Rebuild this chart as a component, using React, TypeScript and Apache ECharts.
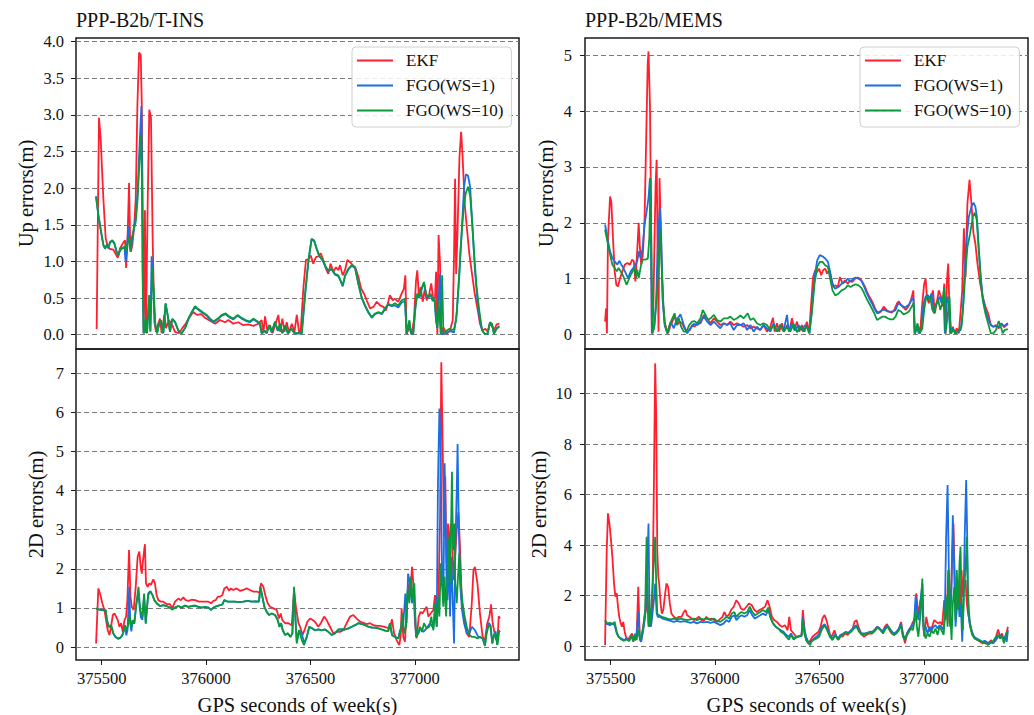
import React, { useEffect, useRef } from "react";
import * as echarts from "echarts";

type P = [number, number][];

const seriesNames = ["EKF", "FGO(WS=1)", "FGO(WS=10)"];
const seriesColors = ["#ff1f2e", "#1a6fe6", "#0a9a3c"];
const xTicks = [375500, 376000, 376500, 377000];
const yTicksUpTins = [0, 0.5, 1, 1.5, 2, 2.5, 3, 3.5, 4];
const yTicks2dTins = [0, 1, 2, 3, 4, 5, 6, 7];
const yTicksUpMems = [0, 1, 2, 3, 4, 5];
const yTicks2dMems = [0, 2, 4, 6, 8, 10];
const panelTitles = ["PPP-B2b/T-INS", "PPP-B2b/MEMS"];

// ---------- Up errors, T-INS ----------
const upTinsEkf: P = [[375473,0.08],[375476,0.09],[375487,2.96],[375495,2.68],[375508,1.86],[375519,1.32],[375529,1.20],[375540,1.17],[375556,1.16],[375567,1.10],[375577,1.05],[375588,1.18],[375604,1.26],[375612,1.29],[375617,0.91],[375623,1.23],[375631,2.07],[375636,1.32],[375640,1.13],[375647,1.23],[375656,1.50],[375663,1.86],[375671,3.14],[375679,3.85],[375687,3.82],[375692,3.14],[375696,1.77],[375701,0.02],[375707,1.70],[375712,0.02],[375720,1.77],[375728,3.07],[375736,2.96],[375744,1.32],[375752,0.18],[375760,0.04],[375768,0.13],[375779,0.22],[375787,0.02],[375800,0.27],[375808,0.09],[375822,0.20],[375838,0.13],[375851,0.04],[375870,0.02],[375886,0.09],[375902,0.15],[375923,0.25],[375939,0.31],[375955,0.27],[375976,0.28],[375995,0.23],[376019,0.19],[376043,0.15],[376067,0.20],[376091,0.17],[376107,0.20],[376130,0.15],[376154,0.17],[376178,0.13],[376202,0.14],[376226,0.12],[376250,0.15],[376266,0.20],[376274,0.02],[376282,0.25],[376293,0.06],[376306,0.13],[376318,0.02],[376330,0.13],[376346,0.27],[376354,0.04],[376365,0.22],[376375,0.04],[376386,0.17],[376397,0.02],[376410,0.15],[376423,0.04],[376434,0.27],[376445,0.04],[376452,0.02],[376466,0.65],[376478,1.02],[376490,1.03],[376501,1.08],[376513,0.97],[376526,1.06],[376537,1.07],[376549,1.11],[376561,1.02],[376574,0.90],[376585,0.83],[376596,0.97],[376609,0.86],[376622,0.92],[376633,0.88],[376641,0.95],[376654,0.81],[376665,0.88],[376676,1.02],[376689,0.99],[376702,0.95],[376714,0.92],[376729,0.79],[376742,0.63],[376756,0.56],[376769,0.47],[376785,0.36],[376801,0.38],[376817,0.45],[376833,0.40],[376849,0.38],[376861,0.33],[376872,0.45],[376880,0.54],[376893,0.47],[376904,0.49],[376920,0.45],[376936,0.56],[376947,0.63],[376954,0.81],[376960,0.01],[376973,0.10],[376984,0.01],[376995,0.20],[377005,0.74],[377011,0.88],[377019,0.51],[377027,0.65],[377037,0.45],[377046,0.61],[377056,0.47],[377067,0.54],[377078,0.70],[377088,0.47],[377096,0.51],[377101,0.86],[377107,0.01],[377113,1.36],[377120,0.97],[377126,0.01],[377136,0.10],[377152,0.01],[377168,0.06],[377181,0.20],[377187,1.11],[377192,2.13],[377197,0.83],[377203,1.33],[377213,2.43],[377221,2.77],[377228,2.43],[377238,1.79],[377248,1.47],[377260,1.11],[377273,0.83],[377286,0.56],[377299,0.36],[377311,0.15],[377324,0.06],[377337,0.08],[377348,0.04],[377359,0.16],[377369,0.11],[377378,0.06],[377391,0.14],[377404,0.15]];
const upTinsWs1: P = [[375473,1.89],[375484,1.63],[375497,1.40],[375508,1.22],[375516,1.17],[375524,1.22],[375532,1.18],[375540,1.26],[375551,1.28],[375561,1.24],[375572,1.12],[375580,1.08],[375588,1.15],[375599,1.18],[375609,1.19],[375615,0.99],[375621,1.20],[375628,1.48],[375634,1.20],[375640,1.15],[375646,1.30],[375654,1.45],[375663,1.60],[375672,1.95],[375680,2.50],[375690,3.12],[375694,2.00],[375697,0.60],[375701,0.02],[375711,0.20],[375717,0.02],[375727,0.50],[375733,0.05],[375739,1.07],[375746,0.70],[375752,0.30],[375757,0.12],[375765,0.02],[375775,0.14],[375784,0.19],[375795,0.02],[375806,0.42],[375816,0.26],[375827,0.04],[375838,0.21],[375851,0.17],[375867,0.05],[375883,0.02],[375899,0.09],[375915,0.21],[375931,0.30],[375947,0.38],[375963,0.34],[375982,0.30],[376003,0.26],[376019,0.21],[376035,0.17],[376056,0.21],[376075,0.26],[376094,0.28],[376110,0.24],[376130,0.21],[376151,0.26],[376170,0.22],[376189,0.19],[376210,0.17],[376226,0.21],[376247,0.17],[376258,0.14],[376266,0.02],[376279,0.05],[376290,0.02],[376301,0.12],[376314,0.03],[376330,0.17],[376343,0.05],[376354,0.14],[376365,0.02],[376378,0.12],[376391,0.02],[376407,0.08],[376423,0.02],[376442,0.02],[376458,0.02],[376474,0.55],[376490,1.01],[376505,1.30],[376517,1.28],[376529,1.17],[376542,1.07],[376558,1.01],[376574,0.91],[376585,0.87],[376601,0.89],[376617,0.82],[376633,0.80],[376644,0.73],[376654,0.66],[376665,0.80],[376681,0.89],[376697,0.94],[376713,0.91],[376729,0.69],[376745,0.50],[376761,0.39],[376777,0.30],[376793,0.23],[376809,0.28],[376825,0.30],[376841,0.28],[376857,0.35],[376872,0.41],[376888,0.39],[376904,0.40],[376920,0.37],[376936,0.44],[376952,0.46],[376960,0.01],[376973,0.18],[376981,0.01],[376992,0.02],[377002,0.37],[377011,0.55],[377021,0.50],[377032,0.62],[377043,0.71],[377053,0.55],[377064,0.50],[377075,0.55],[377085,0.46],[377094,0.48],[377101,0.19],[377107,0.09],[377113,0.44],[377120,0.83],[377126,0.01],[377136,0.01],[377152,0.03],[377168,0.05],[377187,0.03],[377200,0.29],[377212,0.80],[377224,1.43],[377235,2.02],[377244,2.19],[377254,2.17],[377264,2.02],[377276,1.43],[377287,0.88],[377299,0.47],[377311,0.20],[377321,0.06],[377334,0.01],[377347,0.01],[377359,0.16],[377369,0.14],[377378,0.02],[377391,0.09],[377404,0.12]];
const upTinsWs10: P = [[375473,1.88],[375484,1.64],[375497,1.41],[375508,1.23],[375516,1.18],[375524,1.23],[375532,1.19],[375540,1.27],[375551,1.29],[375561,1.25],[375572,1.13],[375580,1.09],[375588,1.16],[375599,1.19],[375609,1.20],[375617,1.13],[375623,1.25],[375631,1.32],[375638,1.13],[375644,1.32],[375652,1.41],[375663,1.54],[375672,1.86],[375680,2.32],[375688,2.73],[375693,2.09],[375696,0.86],[375701,0.02],[375711,0.22],[375717,0.02],[375727,0.54],[375733,0.04],[375743,0.91],[375751,0.50],[375757,0.13],[375765,0.02],[375775,0.15],[375784,0.20],[375795,0.02],[375806,0.43],[375816,0.27],[375827,0.04],[375838,0.22],[375851,0.18],[375867,0.06],[375883,0.02],[375899,0.09],[375915,0.22],[375931,0.31],[375947,0.39],[375963,0.35],[375982,0.31],[376003,0.27],[376019,0.22],[376035,0.18],[376056,0.22],[376075,0.27],[376094,0.29],[376110,0.25],[376130,0.22],[376151,0.27],[376170,0.23],[376189,0.20],[376210,0.18],[376226,0.22],[376247,0.18],[376258,0.15],[376266,0.02],[376279,0.06],[376290,0.02],[376301,0.13],[376314,0.04],[376330,0.18],[376343,0.06],[376354,0.15],[376365,0.02],[376378,0.13],[376391,0.02],[376407,0.09],[376423,0.02],[376442,0.02],[376458,0.02],[376474,0.56],[376490,1.02],[376505,1.31],[376517,1.29],[376529,1.18],[376542,1.08],[376558,1.02],[376574,0.92],[376585,0.88],[376601,0.90],[376617,0.83],[376633,0.81],[376644,0.74],[376654,0.67],[376665,0.81],[376681,0.90],[376697,0.95],[376713,0.92],[376729,0.70],[376745,0.51],[376761,0.40],[376777,0.31],[376793,0.24],[376809,0.29],[376825,0.31],[376841,0.29],[376857,0.36],[376872,0.42],[376888,0.40],[376904,0.43],[376920,0.40],[376936,0.47],[376952,0.49],[376960,0.01],[376973,0.20],[376981,0.01],[376992,0.02],[377002,0.38],[377011,0.56],[377021,0.51],[377032,0.63],[377043,0.72],[377053,0.56],[377064,0.51],[377075,0.56],[377085,0.47],[377094,0.49],[377101,0.20],[377107,0.10],[377113,0.45],[377123,0.01],[377130,0.81],[377136,0.01],[377149,0.05],[377165,0.08],[377177,0.06],[377187,0.08],[377197,0.20],[377208,0.65],[377219,1.20],[377232,1.70],[377243,1.93],[377254,2.02],[377264,1.90],[377273,1.56],[377283,1.11],[377295,0.65],[377308,0.33],[377321,0.06],[377334,0.01],[377347,0.01],[377359,0.17],[377369,0.15],[377378,0.01],[377391,0.08],[377404,0.11]];

// ---------- 2D errors, T-INS ----------
const hzTinsEkf: P = [[375473,0.09],[375484,1.50],[375492,1.37],[375503,1.12],[375513,0.95],[375521,0.69],[375529,0.43],[375537,0.31],[375545,0.52],[375553,0.82],[375561,0.86],[375569,0.78],[375577,0.69],[375585,0.52],[375593,0.61],[375601,0.39],[375609,0.69],[375617,0.78],[375623,1.20],[375631,2.48],[375638,1.29],[375644,1.03],[375653,0.95],[375663,1.54],[375672,2.31],[375680,2.44],[375687,2.05],[375692,1.88],[375698,2.23],[375707,2.63],[375712,1.63],[375720,1.54],[375728,1.63],[375736,1.59],[375747,1.73],[375755,1.63],[375763,1.33],[375771,1.20],[375784,1.16],[375795,1.16],[375811,1.10],[375827,1.10],[375838,0.99],[375851,1.16],[375867,1.24],[375879,1.20],[375891,1.27],[375902,1.20],[375915,1.18],[375931,1.21],[375947,1.20],[375966,1.16],[375987,1.16],[376011,1.16],[376024,1.12],[376035,1.18],[376046,1.20],[376056,1.29],[376067,1.29],[376078,1.33],[376087,1.50],[376099,1.54],[376110,1.44],[376119,1.50],[376130,1.46],[376146,1.50],[376162,1.44],[376178,1.46],[376194,1.50],[376210,1.46],[376226,1.42],[376242,1.42],[376255,1.39],[376263,1.63],[376274,1.54],[376285,1.29],[376295,1.12],[376306,1.03],[376322,0.99],[376338,0.95],[376349,0.73],[376357,0.86],[376365,0.69],[376378,0.61],[376394,0.61],[376410,0.56],[376421,1.42],[376430,1.03],[376442,0.61],[376450,0.52],[376462,0.31],[376474,0.48],[376485,0.65],[376498,0.73],[376510,0.69],[376521,0.65],[376537,0.52],[376549,0.61],[376565,0.78],[376577,0.69],[376593,0.52],[376609,0.35],[376625,0.39],[376641,0.39],[376657,0.43],[376673,0.61],[376689,0.78],[376705,0.82],[376721,0.73],[376737,0.65],[376753,0.62],[376769,0.59],[376785,0.61],[376801,0.56],[376817,0.54],[376833,0.54],[376849,0.52],[376865,0.50],[376880,0.48],[376890,0.71],[376900,0.35],[376912,0.18],[376925,0.05],[376932,0.31],[376936,0.99],[376944,0.26],[376952,0.14],[376960,0.95],[376968,1.63],[376976,1.29],[376986,2.05],[376992,1.63],[377000,0.61],[377008,0.22],[377018,0.78],[377027,0.90],[377037,0.86],[377046,0.95],[377056,1.03],[377064,0.78],[377075,0.86],[377088,0.95],[377096,1.33],[377104,0.86],[377112,1.12],[377120,3.33],[377126,7.28],[377133,5.04],[377139,2.82],[377145,4.36],[377152,1.63],[377158,3.16],[377165,2.48],[377171,3.16],[377177,2.99],[377184,1.71],[377192,2.31],[377200,2.99],[377208,3.46],[377216,2.48],[377224,1.20],[377235,0.78],[377248,0.35],[377260,0.26],[377272,1.12],[377280,1.97],[377287,2.05],[377299,1.63],[377311,0.86],[377324,0.26],[377335,0.18],[377346,0.61],[377356,0.78],[377364,1.09],[377372,0.61],[377380,0.39],[377388,0.18],[377396,0.26],[377401,0.79],[377407,0.73]];
const hzTinsWs1: P = [[375473,0.98],[375492,0.95],[375508,0.94],[375519,0.94],[375525,0.68],[375535,0.51],[375545,0.55],[375556,0.34],[375567,0.25],[375580,0.21],[375593,0.25],[375602,0.34],[375612,0.55],[375618,0.30],[375624,0.45],[375632,1.54],[375637,0.60],[375642,0.40],[375648,0.65],[375656,0.60],[375666,1.10],[375676,1.40],[375682,1.00],[375688,0.75],[375695,0.70],[375703,1.30],[375711,0.60],[375717,1.00],[375723,1.38],[375733,1.43],[375743,1.33],[375752,1.20],[375763,1.12],[375779,1.05],[375795,1.07],[375811,1.05],[375827,1.01],[375838,0.96],[375851,1.01],[375867,1.05],[375883,1.01],[375899,1.06],[375915,1.03],[375931,1.05],[375947,1.06],[375963,1.03],[375979,1.01],[375995,1.03],[376011,1.01],[376024,0.95],[376035,1.01],[376051,1.05],[376067,1.07],[376078,1.09],[376087,1.20],[376103,1.16],[376122,1.16],[376138,1.16],[376157,1.15],[376178,1.16],[376199,1.18],[376218,1.16],[376237,1.17],[376253,1.16],[376260,1.54],[376269,1.29],[376279,1.03],[376290,0.90],[376301,0.82],[376314,0.86],[376330,0.82],[376343,0.69],[376351,0.52],[376359,0.61],[376367,0.43],[376378,0.31],[376391,0.35],[376404,0.26],[376413,0.35],[376421,1.50],[376428,0.69],[376434,0.15],[376445,0.43],[376458,0.35],[376469,0.10],[376482,0.26],[376494,0.52],[376507,0.48],[376521,0.43],[376537,0.45],[376553,0.43],[376569,0.45],[376585,0.39],[376601,0.31],[376617,0.35],[376633,0.45],[376649,0.45],[376665,0.45],[376681,0.48],[376697,0.52],[376713,0.56],[376729,0.61],[376745,0.59],[376761,0.56],[376777,0.52],[376793,0.50],[376809,0.50],[376825,0.48],[376841,0.45],[376857,0.42],[376872,0.41],[376880,0.61],[376890,0.31],[376904,0.26],[376920,0.22],[376928,0.43],[376944,0.61],[376954,1.37],[376960,0.61],[376967,1.88],[376976,1.63],[376986,1.12],[376995,1.46],[377005,0.26],[377016,0.35],[377027,0.48],[377040,0.39],[377056,0.48],[377072,0.61],[377088,0.48],[377096,0.95],[377104,0.52],[377110,4.19],[377117,6.10],[377123,5.04],[377129,2.05],[377136,1.12],[377142,4.70],[377149,2.48],[377155,1.20],[377161,2.31],[377168,0.78],[377174,2.31],[377181,1.12],[377187,0.09],[377193,2.48],[377200,4.02],[377204,5.19],[377209,3.33],[377216,1.63],[377225,0.95],[377235,0.61],[377248,0.35],[377260,0.35],[377273,0.52],[377287,0.43],[377303,0.26],[377311,0.26],[377324,0.22],[377335,0.05],[377343,0.40],[377353,0.62],[377362,0.55],[377370,0.10],[377378,0.30],[377386,0.40],[377394,0.06],[377402,0.40],[377407,0.42]];
const hzTinsWs10: P = [[375473,0.99],[375492,0.96],[375508,0.95],[375519,0.95],[375525,0.69],[375535,0.52],[375545,0.56],[375556,0.35],[375567,0.26],[375580,0.22],[375593,0.26],[375602,0.35],[375612,0.56],[375618,0.43],[375624,0.52],[375628,0.61],[375634,0.82],[375640,0.52],[375648,0.69],[375656,0.61],[375666,1.12],[375676,1.54],[375682,1.12],[375688,0.86],[375695,0.78],[375703,1.37],[375711,0.61],[375717,1.03],[375723,1.33],[375733,1.42],[375743,1.33],[375752,1.20],[375763,1.12],[375779,1.05],[375795,1.07],[375811,1.05],[375827,1.01],[375838,0.96],[375851,1.01],[375867,1.05],[375883,1.01],[375899,1.06],[375915,1.03],[375931,1.05],[375947,1.06],[375963,1.03],[375979,1.01],[375995,1.03],[376011,1.01],[376024,0.95],[376035,1.01],[376051,1.05],[376067,1.07],[376078,1.09],[376087,1.20],[376103,1.16],[376122,1.16],[376138,1.16],[376157,1.15],[376178,1.16],[376199,1.18],[376218,1.16],[376237,1.17],[376253,1.16],[376260,1.54],[376269,1.29],[376279,1.03],[376290,0.90],[376301,0.82],[376314,0.86],[376330,0.82],[376343,0.69],[376351,0.52],[376359,0.61],[376367,0.43],[376378,0.31],[376391,0.35],[376404,0.26],[376413,0.35],[376421,1.54],[376428,0.69],[376434,0.09],[376445,0.43],[376458,0.18],[376469,0.05],[376482,0.26],[376494,0.52],[376507,0.48],[376521,0.43],[376537,0.45],[376553,0.43],[376569,0.45],[376585,0.39],[376601,0.31],[376617,0.35],[376633,0.45],[376649,0.45],[376665,0.45],[376681,0.48],[376697,0.52],[376713,0.56],[376729,0.61],[376745,0.59],[376761,0.56],[376777,0.52],[376793,0.50],[376809,0.50],[376825,0.48],[376841,0.45],[376857,0.42],[376872,0.41],[376880,0.61],[376890,0.31],[376904,0.26],[376920,0.22],[376932,0.43],[376940,0.86],[376948,0.35],[376957,0.52],[376965,1.46],[376973,1.12],[376981,1.80],[376989,1.20],[376997,1.63],[377005,0.26],[377015,0.35],[377024,0.52],[377034,0.39],[377043,0.61],[377056,0.48],[377069,0.52],[377078,0.78],[377088,0.43],[377096,1.12],[377104,0.52],[377110,1.29],[377117,0.78],[377123,2.14],[377129,1.63],[377136,1.03],[377142,1.80],[377149,0.78],[377155,1.63],[377161,2.82],[377168,1.63],[377173,3.16],[377177,4.48],[377182,2.48],[377187,3.16],[377193,1.63],[377200,1.12],[377206,1.80],[377212,2.40],[377219,1.63],[377228,1.12],[377238,0.78],[377248,0.52],[377260,0.31],[377273,0.26],[377287,0.26],[377299,0.22],[377311,0.26],[377324,0.22],[377335,0.03],[377343,0.35],[377353,0.56],[377362,0.52],[377370,0.09],[377378,0.31],[377386,0.35],[377394,0.05],[377402,0.39],[377407,0.42]];

// ---------- Up errors, MEMS ----------
const upMemsEkf: P = [[375473,0.23],[375478,0.47],[375482,0.02],[375487,1.73],[375497,2.47],[375503,2.38],[375511,1.73],[375519,1.13],[375527,0.89],[375535,0.86],[375545,1.01],[375556,1.13],[375567,1.25],[375580,1.28],[375592,1.25],[375603,1.34],[375611,1.31],[375618,0.95],[375626,1.43],[375634,2.00],[375640,1.55],[375646,1.25],[375654,1.43],[375662,2.03],[375670,3.52],[375677,4.83],[375681,5.07],[375688,4.12],[375693,2.32],[375697,0.02],[375704,0.41],[375710,1.73],[375715,2.68],[375720,3.13],[375724,1.73],[375729,0.05],[375734,2.80],[375739,2.03],[375745,1.13],[375752,0.53],[375758,0.23],[375766,0.11],[375775,0.02],[375787,0.17],[375799,0.26],[375807,0.35],[375818,0.17],[375829,0.23],[375842,0.20],[375853,0.11],[375866,0.05],[375879,0.08],[375890,0.17],[375901,0.14],[375914,0.19],[375930,0.20],[375946,0.35],[375962,0.29],[375978,0.20],[375994,0.29],[376009,0.23],[376025,0.17],[376041,0.20],[376057,0.17],[376073,0.23],[376089,0.17],[376105,0.20],[376121,0.17],[376137,0.14],[376153,0.17],[376169,0.11],[376184,0.14],[376200,0.11],[376216,0.08],[376232,0.17],[376248,0.05],[376264,0.14],[376277,0.30],[376285,0.05],[376296,0.20],[376307,0.05],[376320,0.20],[376331,0.05],[376344,0.17],[376355,0.05],[376368,0.29],[376379,0.08],[376392,0.23],[376403,0.05],[376415,0.17],[376428,0.05],[376439,0.23],[376450,0.03],[376460,0.56],[376469,1.03],[376479,1.15],[376489,1.12],[376498,1.18],[376508,1.06],[376517,1.15],[376527,1.18],[376536,1.09],[376546,1.15],[376555,1.03],[376565,0.85],[376575,0.88],[376587,0.85],[376598,1.03],[376610,0.91],[376622,0.97],[376635,0.91],[376646,0.97],[376657,0.94],[376670,1.00],[376683,1.02],[376694,1.00],[376705,0.94],[376718,0.85],[376731,0.73],[376743,0.65],[376756,0.56],[376769,0.44],[376782,0.38],[376794,0.41],[376807,0.50],[376820,0.44],[376832,0.41],[376845,0.39],[376858,0.44],[376871,0.56],[376880,0.59],[376890,0.53],[376901,0.50],[376912,0.44],[376925,0.50],[376938,0.62],[376949,0.79],[376954,0.02],[376961,0.08],[376973,0.14],[376981,0.02],[376992,0.56],[377001,0.91],[377008,1.00],[377014,0.68],[377023,0.56],[377033,0.65],[377043,0.79],[377052,0.38],[377062,0.59],[377071,0.79],[377081,0.68],[377090,0.50],[377097,0.91],[377103,0.02],[377110,0.97],[377116,1.27],[377122,0.44],[377129,0.02],[377138,0.14],[377148,0.02],[377157,0.11],[377167,0.02],[377176,0.44],[377183,0.79],[377191,1.90],[377199,1.03],[377208,2.35],[377218,2.77],[377227,2.35],[377237,1.81],[377246,1.63],[377256,1.27],[377269,0.91],[377281,0.68],[377294,0.50],[377307,0.38],[377320,0.17],[377332,0.14],[377345,0.17],[377358,0.11],[377371,0.20],[377383,0.13],[377396,0.17],[377402,0.19]];
const upMemsWs1: P = [[375473,1.97],[375484,1.73],[375497,1.49],[375508,1.37],[375519,1.31],[375532,1.25],[375541,1.32],[375551,1.25],[375561,1.19],[375572,1.10],[375583,1.01],[375596,1.13],[375608,1.19],[375618,1.25],[375627,1.31],[375635,1.49],[375643,1.37],[375653,1.55],[375662,1.97],[375672,2.20],[375681,2.44],[375688,2.80],[375693,1.73],[375697,0.02],[375707,0.11],[375717,0.53],[375726,1.73],[375736,2.26],[375742,1.73],[375748,0.65],[375758,0.17],[375771,0.02],[375787,0.23],[375802,0.11],[375815,0.26],[375834,0.36],[375850,0.17],[375866,0.02],[375882,0.11],[375898,0.19],[375914,0.17],[375930,0.23],[375946,0.32],[375962,0.23],[375978,0.17],[375994,0.23],[376009,0.17],[376025,0.11],[376041,0.20],[376057,0.17],[376073,0.20],[376089,0.08],[376105,0.17],[376121,0.17],[376137,0.20],[376153,0.08],[376169,0.17],[376184,0.05],[376200,0.14],[376216,0.08],[376232,0.17],[376248,0.11],[376264,0.05],[376280,0.20],[376296,0.05],[376312,0.17],[376328,0.07],[376344,0.35],[376353,0.05],[376368,0.20],[376383,0.07],[376399,0.17],[376415,0.08],[376431,0.17],[376446,0.08],[376452,0.02],[376463,0.44],[376476,1.03],[376489,1.33],[376501,1.42],[376514,1.40],[376527,1.36],[376540,1.30],[376549,1.15],[376562,0.91],[376575,0.82],[376590,0.85],[376606,0.91],[376622,0.94],[376635,1.00],[376648,0.94],[376661,1.00],[376673,1.02],[376686,1.00],[376699,0.97],[376711,0.88],[376724,0.76],[376737,0.65],[376750,0.56],[376762,0.47],[376775,0.38],[376788,0.41],[376801,0.44],[376813,0.44],[376826,0.41],[376839,0.41],[376852,0.41],[376864,0.44],[376877,0.56],[376890,0.53],[376902,0.48],[376915,0.50],[376928,0.53],[376941,0.62],[376950,0.65],[376957,0.02],[376966,0.11],[376976,0.02],[376988,0.08],[376998,0.56],[377008,0.68],[377017,0.71],[377027,0.65],[377036,0.73],[377046,0.44],[377055,0.50],[377065,0.59],[377074,0.68],[377084,0.56],[377094,0.62],[377100,0.02],[377106,0.56],[377113,0.68],[377119,0.44],[377125,0.02],[377138,0.11],[377151,0.02],[377164,0.05],[377176,0.08],[377186,0.44],[377195,1.15],[377205,1.75],[377215,2.11],[377227,2.29],[377237,2.36],[377246,2.29],[377253,2.11],[377262,1.57],[377272,1.03],[377281,0.68],[377294,0.44],[377307,0.29],[377320,0.17],[377332,0.14],[377345,0.15],[377358,0.14],[377371,0.19],[377383,0.15],[377396,0.19],[377402,0.20]];
const upMemsWs10: P = [[375473,1.88],[375484,1.67],[375497,1.43],[375508,1.25],[375519,1.19],[375529,1.13],[375538,1.19],[375548,1.13],[375557,1.07],[375567,0.98],[375576,0.89],[375586,0.98],[375596,1.07],[375605,1.13],[375615,1.19],[375621,1.01],[375627,1.16],[375634,1.01],[375640,1.13],[375646,1.25],[375653,1.34],[375665,1.34],[375678,1.36],[375685,1.73],[375691,2.80],[375696,1.13],[375701,0.02],[375710,0.17],[375720,0.65],[375729,1.25],[375737,1.88],[375745,1.19],[375752,0.53],[375760,0.17],[375771,0.02],[375782,0.17],[375795,0.29],[375806,0.38],[375815,0.17],[375826,0.29],[375837,0.14],[375850,0.05],[375863,0.05],[375876,0.17],[375890,0.23],[375901,0.24],[375914,0.20],[375930,0.29],[375941,0.44],[375954,0.35],[375965,0.26],[375978,0.29],[375994,0.35],[376009,0.26],[376025,0.23],[376041,0.29],[376060,0.29],[376073,0.32],[376089,0.26],[376105,0.29],[376121,0.34],[376137,0.29],[376156,0.38],[376169,0.26],[376184,0.29],[376200,0.20],[376216,0.17],[376232,0.20],[376248,0.17],[376264,0.08],[376280,0.17],[376296,0.05],[376312,0.17],[376328,0.05],[376344,0.14],[376360,0.05],[376376,0.19],[376392,0.04],[376407,0.14],[376423,0.05],[376439,0.16],[376450,0.02],[376463,0.38],[376476,0.91],[376489,1.21],[376501,1.30],[376514,1.30],[376527,1.24],[376540,1.21],[376549,1.03],[376562,0.79],[376575,0.70],[376590,0.73],[376606,0.79],[376622,0.82],[376635,0.88],[376648,0.85],[376661,0.88],[376673,0.90],[376686,0.88],[376699,0.84],[376711,0.76],[376724,0.65],[376737,0.56],[376750,0.47],[376762,0.38],[376775,0.26],[376788,0.29],[376801,0.32],[376813,0.32],[376826,0.29],[376839,0.27],[376852,0.27],[376864,0.32],[376877,0.44],[376890,0.41],[376902,0.36],[376915,0.38],[376928,0.41],[376941,0.50],[376950,0.56],[376957,0.02],[376969,0.20],[376979,0.02],[376992,0.11],[377001,0.44],[377011,0.68],[377020,0.62],[377030,0.68],[377040,0.44],[377049,0.38],[377059,0.56],[377068,0.62],[377078,0.44],[377087,0.56],[377097,0.85],[377103,0.02],[377113,0.32],[377122,0.68],[377129,0.02],[377141,0.08],[377154,0.02],[377167,0.08],[377180,0.14],[377189,0.56],[377199,1.15],[377208,1.57],[377221,1.81],[377234,2.11],[377243,2.18],[377253,2.05],[377262,1.51],[377272,0.97],[377281,0.62],[377294,0.38],[377307,0.20],[377320,0.02],[377332,0.02],[377345,0.08],[377358,0.24],[377368,0.14],[377377,0.02],[377386,0.08],[377396,0.09],[377402,0.09]];

// ---------- 2D errors, MEMS ----------
const hzMemsEkf: P = [[375473,0.04],[375481,3.80],[375487,5.26],[375494,4.86],[375500,4.33],[375508,3.54],[375516,2.48],[375522,1.96],[375529,2.09],[375535,1.56],[375541,1.16],[375548,0.90],[375554,0.77],[375560,0.96],[375567,0.57],[375573,0.37],[375583,0.24],[375592,0.37],[375602,0.50],[375611,0.30],[375618,0.24],[375624,0.37],[375632,2.35],[375639,0.37],[375646,0.24],[375654,0.63],[375662,1.16],[375669,1.43],[375675,2.48],[375681,0.90],[375688,0.77],[375694,0.90],[375700,1.82],[375707,6.45],[375713,11.20],[375718,9.09],[375723,3.80],[375728,2.75],[375732,2.48],[375739,1.69],[375745,1.29],[375752,1.43],[375759,1.96],[375767,2.48],[375775,2.35],[375783,1.69],[375791,1.29],[375802,1.16],[375815,1.09],[375826,1.16],[375839,1.16],[375850,1.35],[375858,1.43],[375866,1.22],[375877,1.16],[375888,1.09],[375898,1.03],[375911,1.09],[375923,1.16],[375935,1.03],[375946,1.00],[375958,1.16],[375971,1.06],[375984,1.09],[375997,1.03],[376009,0.96],[376022,1.06],[376035,1.16],[376044,1.35],[376054,1.19],[376065,1.22],[376076,1.43],[376089,1.56],[376102,1.82],[376113,1.69],[376124,1.49],[376137,1.43],[376150,1.56],[376162,1.69],[376175,1.63],[376188,1.43],[376200,1.35],[376213,1.43],[376226,1.49],[376239,1.56],[376251,1.82],[376261,1.56],[376272,1.16],[376283,1.03],[376296,0.96],[376309,0.83],[376321,0.77],[376334,0.83],[376347,0.63],[376355,1.16],[376363,0.63],[376376,0.50],[376388,0.37],[376401,0.37],[376414,0.44],[376420,1.43],[376427,0.77],[376436,0.24],[376446,0.11],[376457,0.24],[376466,0.37],[376476,0.44],[376485,0.50],[376495,0.57],[376505,0.77],[376514,1.10],[376524,1.23],[376533,1.03],[376543,0.70],[376552,0.37],[376562,0.44],[376571,0.63],[376581,0.37],[376591,0.24],[376600,0.44],[376610,0.37],[376622,0.50],[376635,0.44],[376648,0.57],[376657,0.63],[376667,0.96],[376677,1.03],[376686,0.77],[376699,0.50],[376712,0.37],[376724,0.44],[376737,0.50],[376750,0.50],[376762,0.63],[376775,0.77],[376788,0.70],[376801,0.57],[376813,0.77],[376823,0.87],[376833,0.66],[376845,0.50],[376858,0.44],[376871,0.57],[376880,0.66],[376890,0.96],[376899,0.50],[376909,0.11],[376919,0.50],[376928,0.66],[376938,0.77],[376947,0.96],[376957,1.03],[376963,2.09],[376969,1.56],[376976,1.29],[376982,1.80],[376992,1.43],[377001,0.37],[377011,1.16],[377020,0.77],[377030,0.57],[377039,0.77],[377049,1.03],[377059,0.96],[377068,0.90],[377078,0.96],[377087,0.83],[377097,1.82],[377103,1.03],[377110,1.43],[377116,3.01],[377122,0.90],[377129,1.96],[377135,3.67],[377141,4.86],[377148,2.35],[377154,1.43],[377161,1.96],[377167,2.62],[377173,1.43],[377180,3.01],[377186,1.96],[377192,2.35],[377199,2.62],[377205,1.69],[377211,1.29],[377221,0.90],[377231,0.50],[377243,0.30],[377256,0.24],[377269,0.17],[377282,0.11],[377294,0.17],[377307,0.04],[377320,0.24],[377332,0.11],[377345,0.37],[377355,0.66],[377364,0.37],[377374,0.50],[377383,0.17],[377393,0.44],[377402,0.77]];
const hzMemsWs1: P = [[375473,0.90],[375484,0.87],[375497,0.83],[375508,0.90],[375519,0.83],[375529,0.50],[375538,0.37],[375551,0.30],[375564,0.24],[375576,0.30],[375589,0.21],[375599,0.37],[375608,0.24],[375618,0.50],[375624,0.37],[375632,1.36],[375640,0.24],[375646,0.17],[375656,0.63],[375665,1.16],[375675,3.14],[375681,4.86],[375686,1.16],[375693,0.77],[375700,1.29],[375707,1.82],[375713,2.48],[375720,1.29],[375726,1.16],[375736,1.16],[375748,1.09],[375761,1.06],[375774,1.03],[375787,1.00],[375802,0.96],[375818,1.00],[375834,0.96],[375850,0.99],[375866,0.96],[375882,0.92],[375898,0.96],[375913,0.90],[375930,0.96],[375946,0.94],[375962,0.96],[375978,0.92],[375994,0.96],[376009,0.90],[376025,0.83],[376041,0.90],[376054,1.03],[376067,0.96],[376080,1.16],[376092,1.22],[376102,1.03],[376115,1.16],[376127,1.22],[376140,1.16],[376153,1.22],[376166,1.43],[376178,1.22],[376191,1.09],[376204,1.16],[376216,1.22],[376229,1.29],[376242,1.22],[376255,1.43],[376264,1.16],[376277,0.90],[376290,0.77],[376302,0.70],[376315,0.63],[376328,0.57],[376341,0.44],[376353,0.37],[376363,0.50],[376376,0.30],[376388,0.37],[376401,0.40],[376414,0.44],[376420,1.16],[376427,0.63],[376436,0.37],[376446,0.17],[376460,0.17],[376473,0.30],[376485,0.37],[376498,0.48],[376511,0.77],[376524,0.87],[376536,0.70],[376549,0.44],[376562,0.30],[376575,0.48],[376587,0.30],[376600,0.44],[376613,0.50],[376626,0.57],[376638,0.53],[376651,0.63],[376664,0.77],[376677,0.83],[376689,0.63],[376702,0.50],[376715,0.50],[376727,0.53],[376740,0.57],[376753,0.57],[376766,0.66],[376778,0.77],[376791,0.66],[376804,0.57],[376817,0.77],[376829,0.79],[376842,0.63],[376855,0.50],[376868,0.57],[376880,0.70],[376890,0.90],[376899,0.44],[376909,0.30],[376919,0.50],[376928,0.63],[376938,0.77],[376947,0.77],[376954,1.16],[376960,1.96],[376966,1.43],[376973,1.03],[376982,1.69],[376992,2.48],[376998,0.63],[377008,0.77],[377017,0.50],[377027,0.77],[377036,0.63],[377046,0.77],[377055,0.83],[377065,0.70],[377074,0.83],[377084,0.77],[377094,0.63],[377100,1.29],[377106,4.33],[377113,6.38],[377119,3.01],[377125,0.77],[377132,2.35],[377138,5.18],[377145,3.01],[377151,0.77],[377157,1.43],[377164,1.96],[377170,1.16],[377176,1.69],[377183,0.17],[377189,1.69],[377195,4.33],[377202,6.58],[377207,4.33],[377211,1.43],[377218,0.90],[377227,0.63],[377240,0.37],[377253,0.30],[377266,0.24],[377278,0.17],[377291,0.21],[377304,0.13],[377317,0.17],[377329,0.11],[377342,0.21],[377355,0.37],[377367,0.44],[377380,0.30],[377390,0.40],[377396,0.17],[377402,0.63]];
const hzMemsWs10: P = [[375473,1.03],[375484,0.90],[375497,0.92],[375508,0.87],[375519,0.96],[375529,0.57],[375538,0.37],[375551,0.26],[375564,0.21],[375576,0.26],[375589,0.21],[375599,0.44],[375608,0.17],[375618,0.44],[375624,0.24],[375632,0.63],[375640,0.30],[375646,0.37],[375656,0.77],[375665,1.43],[375672,4.33],[375677,1.82],[375681,0.77],[375688,0.90],[375694,1.56],[375700,2.35],[375707,3.40],[375713,4.33],[375718,2.48],[375723,1.29],[375732,1.22],[375745,1.16],[375758,1.13],[375771,1.09],[375787,1.06],[375802,1.09],[375818,1.06],[375834,1.09],[375850,1.06],[375866,1.03],[375882,1.06],[375898,1.09],[375913,1.03],[375930,1.09],[375946,1.06],[375962,1.09],[375978,1.03],[375994,1.09],[376009,1.00],[376025,0.96],[376041,1.06],[376054,1.16],[376067,1.09],[376080,1.29],[376092,1.35],[376102,1.16],[376115,1.29],[376127,1.35],[376140,1.29],[376153,1.35],[376166,1.56],[376178,1.35],[376191,1.22],[376204,1.29],[376216,1.35],[376229,1.43],[376242,1.35],[376255,1.53],[376264,1.16],[376277,0.90],[376290,0.77],[376302,0.70],[376315,0.57],[376328,0.50],[376341,0.37],[376353,0.26],[376363,0.44],[376376,0.26],[376388,0.34],[376401,0.40],[376414,0.40],[376420,1.03],[376427,0.50],[376436,0.24],[376446,0.11],[376455,0.04],[376460,0.17],[376473,0.26],[376485,0.30],[376498,0.37],[376511,0.66],[376524,0.83],[376536,0.63],[376549,0.37],[376562,0.24],[376575,0.44],[376587,0.26],[376600,0.37],[376613,0.48],[376626,0.53],[376638,0.50],[376651,0.57],[376664,0.70],[376677,0.77],[376689,0.57],[376702,0.44],[376715,0.48],[376727,0.50],[376740,0.53],[376753,0.50],[376766,0.61],[376778,0.74],[376791,0.63],[376804,0.50],[376817,0.70],[376829,0.77],[376842,0.57],[376855,0.44],[376868,0.50],[376880,0.63],[376890,0.83],[376899,0.37],[376909,0.24],[376919,0.44],[376928,0.57],[376938,0.70],[376947,0.63],[376954,0.96],[376960,1.43],[376966,0.77],[376973,0.37],[376982,1.16],[376992,2.68],[376998,0.77],[377008,0.30],[377017,0.50],[377027,0.37],[377036,0.63],[377046,0.50],[377055,0.70],[377065,0.44],[377074,0.77],[377084,0.63],[377094,0.44],[377100,1.16],[377106,1.96],[377113,0.77],[377119,3.01],[377125,1.43],[377132,0.24],[377138,1.69],[377145,2.35],[377151,1.03],[377157,3.01],[377164,1.43],[377170,3.28],[377175,3.94],[377180,1.69],[377186,0.63],[377192,2.35],[377199,3.01],[377205,4.33],[377210,2.35],[377215,1.43],[377221,0.77],[377231,0.44],[377243,0.30],[377256,0.24],[377269,0.21],[377282,0.13],[377294,0.11],[377307,0.08],[377320,0.13],[377332,0.21],[377345,0.37],[377355,0.44],[377364,0.30],[377374,0.37],[377383,0.11],[377393,0.50],[377402,0.57]];

const FONT = '"Liberation Serif", "Times New Roman", Times, serif';
const INK = "#111111";

function buildOption() {
  const grids = [
    { left: 76, top: 38, width: 443, height: 311 },
    { left: 76, top: 349, width: 443, height: 311 },
    { left: 585, top: 38, width: 443, height: 311 },
    { left: 585, top: 349, width: 443, height: 311 },
  ].map((g) => ({
    ...g,
    show: true,
    borderColor: "#1a1a1a",
    borderWidth: 1.5,
    backgroundColor: "transparent",
    containLabel: false,
    outerBoundsMode: "none",
  }));

  const bottom = [false, true, false, true];
  const xAxis = grids.map((_, i) => ({
    type: "value",
    gridIndex: i,
    min: 375377,
    max: 377498,
    name: bottom[i] ? "GPS seconds of week(s)" : "",
    nameLocation: "middle",
    nameGap: 34,
    nameTextStyle: { fontFamily: FONT, fontSize: 20.5, color: INK },
    axisLine: { show: false, onZero: false },
    axisTick: {
      show: bottom[i],
      customValues: xTicks,
      length: 5,
      inside: false,
      lineStyle: { color: "#1a1a1a", width: 1 },
    },
    axisLabel: {
      show: bottom[i],
      customValues: xTicks,
      formatter: (v: number) => String(v),
      fontFamily: FONT,
      fontSize: 16.5,
      color: INK,
      margin: 10,
    },
    splitLine: { show: false },
  }));

  const yCfg = [
    { min: -0.195, max: 4.05, ticks: yTicksUpTins, name: "Up errors(m)", gap: 40, dec: true, margin: 12 },
    { min: -0.33, max: 7.62, ticks: yTicks2dTins, name: "2D errors(m)", gap: 30, dec: false, margin: 12 },
    { min: -0.26, max: 5.31, ticks: yTicksUpMems, name: "Up errors(m)", gap: 28.5, dec: false, margin: 13 },
    { min: -0.55, max: 11.77, ticks: yTicks2dMems, name: "2D errors(m)", gap: 35.5, dec: false, margin: 13 },
  ];
  const yAxis = yCfg.map((c, i) => ({
    type: "value",
    gridIndex: i,
    min: c.min,
    max: c.max,
    name: c.name,
    nameLocation: "middle",
    nameGap: c.gap,
    nameMoveOverlap: false,
    nameTextStyle: { fontFamily: FONT, fontSize: 20.5, color: INK },
    axisLine: { show: false },
    axisTick: { show: true, customValues: c.ticks, length: 5, inside: false, lineStyle: { color: "#1a1a1a", width: 1 } },
    axisLabel: {
      customValues: c.ticks,
      formatter: (v: number) => (c.dec ? v.toFixed(1) : String(v)),
      fontFamily: FONT,
      fontSize: 16.5,
      color: INK,
      margin: c.margin,
    },
    splitLine: { show: true, lineStyle: { color: "#7a7a7a", type: [5, 3], width: 1.2 } },
  }));

  const panels: P[][] = [
    [upTinsEkf, upTinsWs1, upTinsWs10],
    [hzTinsEkf, hzTinsWs1, hzTinsWs10],
    [upMemsEkf, upMemsWs1, upMemsWs10],
    [hzMemsEkf, hzMemsWs1, hzMemsWs10],
  ];
  const series: any[] = [];
  panels.forEach((set, gi) => {
    set.forEach((data, k) => {
      series.push({
        type: "line",
        name: seriesNames[k],
        data,
        xAxisIndex: gi,
        yAxisIndex: gi,
        symbol: "none",
        showSymbol: false,
        silent: true,
        z: 2 + k,
        lineStyle: { color: seriesColors[k], width: 1.8 },
        itemStyle: { color: seriesColors[k] },
      });
    });
  });

  const legendBase = {
    orient: "vertical",
    top: 47,
    icon: "rect",
    itemWidth: 36,
    itemHeight: 2,
    itemGap: 8,
    padding: [5, 8, 8, 5],
    borderColor: "#cfcfcf",
    borderWidth: 1,
    borderRadius: 4,
    backgroundColor: "rgba(255,255,255,0.85)",
    selectedMode: false,
    data: seriesNames,
    textStyle: { fontFamily: FONT, fontSize: 17, color: INK, padding: [0, 0, 0, 8] },
  };

  return {
    animation: false,
    backgroundColor: "#ffffff",
    grid: grids,
    xAxis,
    yAxis,
    series,
    legend: [
      { ...legendBase, left: 352 },
      { ...legendBase, left: 860 },
    ],
    graphic: [
      { type: "text", left: 76, top: 10, style: { text: panelTitles[0], font: `20px ${FONT}`, fill: INK } },
      { type: "text", left: 585, top: 10, style: { text: panelTitles[1], font: `20px ${FONT}`, fill: INK } },
    ],
  };
}

export default function App() {
  const ref = useRef<HTMLDivElement>(null);
  useEffect(() => {
    if (!ref.current) return;
    const chart = echarts.init(ref.current, null, { renderer: "svg" });
    chart.setOption(buildOption() as any);
    return () => chart.dispose();
  }, []);
  return (
    <div
      ref={ref}
      style={{ position: "absolute", left: 0, top: 0, width: 1034, height: 715, background: "#fff" }}
    />
  );
}
